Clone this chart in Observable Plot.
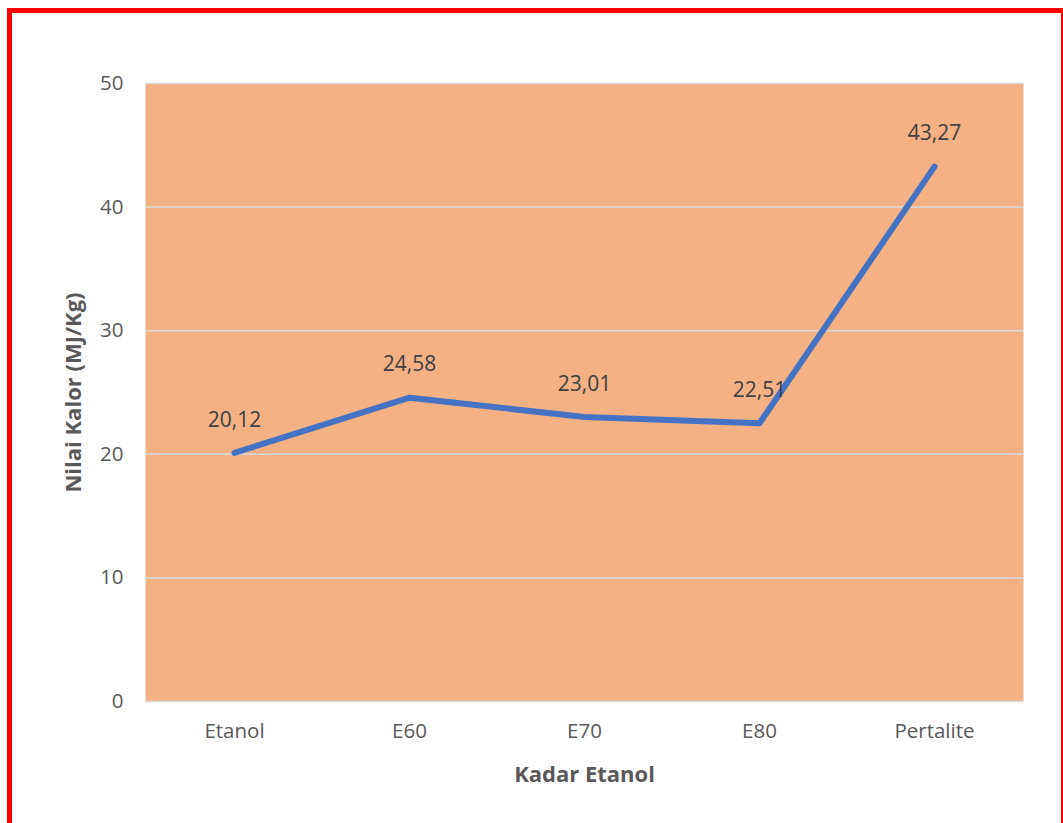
<!DOCTYPE html>
<html>
<head>
<meta charset="utf-8">
<script src="https://cdn.jsdelivr.net/npm/d3@7"></script>
<script src="https://cdn.jsdelivr.net/npm/@observablehq/plot@0.6"></script>
<style>
  html, body { margin: 0; padding: 0; background: #fff; overflow: hidden; }
  #wrap { position: relative; width: 1063px; height: 823px; overflow: hidden; background: #fff; }
  #frame {
    position: absolute; left: 7px; top: 8px; width: 1056px; height: 900px;
    box-sizing: border-box; border: 5px solid #FF0000; border-right-width: 2px;
    pointer-events: none;
  }
  #chart { position: absolute; left: 0; top: 0; }
</style>
</head>
<body>
<div id="wrap">
  <div id="chart"></div>
  <div id="frame"></div>
</div>
<script>
// Heating value of each fuel blend
const categories = ["Etanol", "E60", "E70", "E80", "Pertalite"];
const nilaiKalor = [20.12, 24.58, 23.01, 22.51, 43.27];
const yTicks = [0, 10, 20, 30, 40, 50];

const data = categories.map((k, i) => ({kadar: k, nilai: nilaiKalor[i]}));
const fmt = v => v.toFixed(2).replace(".", ",");

const chart = Plot.plot({
  width: 1063,
  height: 823,
  marginLeft: 145,
  marginRight: 40,
  marginTop: 83,
  marginBottom: 122,
  style: {fontFamily: "'Open Sans', sans-serif", fontSize: "20.5px", color: "#595959", background: "transparent"},
  x: {type: "point", domain: categories, padding: 0.5},
  y: {domain: [0, 50]},
  marks: [
    Plot.frame({fill: "#F4B183", stroke: null}),
    Plot.gridY(yTicks, {stroke: "#D9D9D9", strokeOpacity: 1, strokeWidth: 1.5}),
    Plot.axisY({
      ticks: yTicks, tickSize: 0, tickPadding: 22, fill: "#595959",
      label: "Nilai Kalor (MJ/Kg)", labelAnchor: "center", labelArrow: "none", labelOffset: 80
    }),
    Plot.axisX({
      tickSize: 0, tickPadding: 22, fill: "#595959",
      label: "Kadar Etanol", labelAnchor: "center", labelArrow: "none", labelOffset: 80
    }),
    Plot.line(data, {
      x: "kadar", y: "nilai", stroke: "#4472C4", strokeWidth: 6,
      strokeLinecap: "round", strokeLinejoin: "round"
    }),
    Plot.text(data, {
      x: "kadar", y: "nilai", text: d => fmt(d.nilai), dy: -33,
      fill: "#404040", fontSize: 21
    })
  ]
});

// Bold axis titles
chart.querySelectorAll('g[aria-label="y-axis label"], g[aria-label="x-axis label"]').forEach(g => {
  g.setAttribute("font-weight", "bold");
  g.setAttribute("font-size", "22");
  g.setAttribute("fill", "#595959");
});

document.getElementById("chart").appendChild(chart);
</script>
</body>
</html>
